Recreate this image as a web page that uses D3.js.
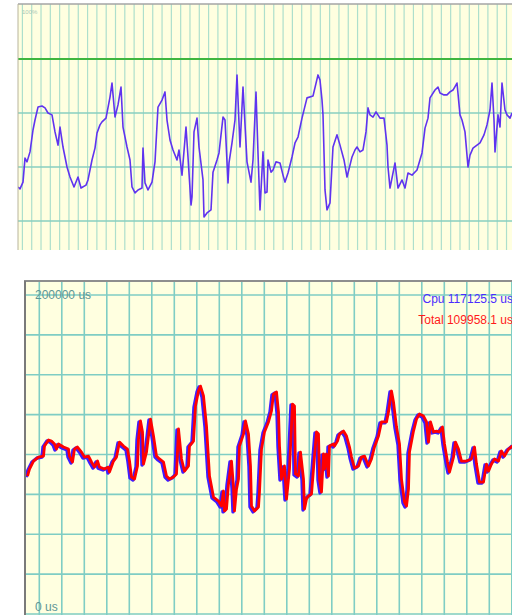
<!DOCTYPE html>
<html>
<head>
<meta charset="utf-8">
<script src="https://cdn.jsdelivr.net/npm/d3@7"></script>
<style>
  body { margin: 0; background: #fff; }
  svg { display: block; font-family: "Liberation Sans", Arial, sans-serif; }
</style>
</head>
<body>
<div class="chart"></div>
<script>
// ---- data: top panel (cpu load, percent) ----
const topT = [0,2,5,7,9,12,15,17,20,24,27,30,34,37,40,42,45,49,52,56,60,63,68,70,74,77,79,82,84,88,
  92,94,97,100,103,105,109,112,114,117,120,124,125,127,130,134,137,140,144,147,149,152,155,159,161,164,168,170,173,174,
  176,179,181,185,186,189,193,195,199,201,205,207,210,211,214,217,219,222,225,229,233,235,238,240,242,245,247,249,250,253,
  255,258,262,265,267,270,274,277,280,284,289,295,300,302,304,305,307,309,312,315,319,322,326,329,332,334,337,339,342,345,
  348,350,352,355,358,362,366,369,370,372,377,380,384,387,390,394,399,404,407,410,412,417,420,422,426,429,432,435,439,442,
  444,447,450,452,455,459,462,466,469,472,474,476,477,480,482,484,487,489,492,494];
const topPct = [32.6,31.9,34.4,43.3,41.9,45.6,53.7,57.4,62.2,62.6,61.9,60.0,59.3,53.0,48.1,54.8,47.4,40.0,36.3,32.6,
  36.3,32.2,33.3,35.2,42.6,47.0,52.6,55.6,56.7,58.1,65.9,71.1,58.5,63.0,69.6,54.8,47.4,42.6,32.6,30.4,
  31.5,32.2,47.0,34.1,31.5,34.4,41.9,62.2,64.8,67.8,57.4,50.0,46.3,42.6,46.3,37.0,54.8,43.7,25.9,28.9,
  53.0,58.1,47.4,35.2,21.5,23.0,24.1,38.1,42.6,45.2,58.5,57.4,34.1,41.5,48.9,57.4,74.1,47.4,69.6,41.9,
  34.4,42.6,67.8,45.2,24.1,45.6,30.4,30.7,42.6,38.1,38.9,41.9,41.5,37.0,34.4,37.8,43.7,48.9,51.1,58.1,
  65.6,66.3,74.1,72.2,64.8,59.3,31.5,24.1,26.7,47.4,51.9,48.1,42.6,36.3,40.7,43.7,46.3,47.4,45.6,46.3,
  53.0,61.9,59.3,58.5,60.4,58.1,58.1,48.1,40.0,32.2,41.5,32.2,35.2,32.2,37.8,37.0,38.9,45.2,54.4,58.1,
  65.6,68.5,69.6,67.4,66.7,66.7,67.8,68.5,71.1,59.3,57.4,53.0,40.0,44.4,47.0,48.1,48.9,51.9,55.6,61.1,
  71.1,57.4,45.6,59.3,54.8,71.1,61.1,59.3,58.1,60.0];
const topGridPct = [20, 40, 60];
const thresholdPct = 80;
const topLabel = "100%";

// ---- data: bottom panel (frame time, us) ----
const bottomT = [0,2,6,11,16,17,21,24,27,29,31,36,41,42,45,47,50,54,57,61,64,67,70,72,77,81,82,86,89,92,
  96,100,102,104,107,110,111,113,115,116,119,121,123,126,129,132,136,139,142,146,149,151,154,157,161,162,166,168,171,173,
  176,179,182,186,191,194,196,197,199,201,204,206,207,209,211,212,216,218,221,223,224,227,231,232,234,237,241,244,246,249,
  251,252,254,257,259,262,265,267,268,271,273,276,277,279,281,284,287,289,291,292,294,296,297,299,301,302,306,307,310,312,
  316,319,322,324,327,331,334,337,341,344,347,351,354,359,361,364,366,369,372,374,377,379,381,382,386,389,392,396,399,401,
  403,406,409,412,415,417,420,422,426,428,431,434,439,444,447,449,452,456,459,461,464,467,471,474,477,481,484,486];
const cpuUs = [85900,90300,95300,97800,98400,104700,108500,107800,106000,102800,
  106000,104100,102800,98400,94700,102800,104100,100900,97800,98400,
  94700,91500,95300,91500,90300,91500,88400,95300,97800,107200,
  104700,102800,95300,85300,84000,92200,109100,120400,113500,93400,
  100900,111000,121600,111000,98400,96600,94700,85900,84000,85300,
  87200,115400,96600,89000,92200,104700,107800,129800,139200,142300,
  136100,117200,85900,72700,70200,67100,76500,64000,65200,80900,
  95300,79000,64000,77700,84000,104700,112200,120400,112200,92200,
  67100,64000,66500,75900,102800,113500,119800,126700,137300,138600,
  126000,104700,84000,92200,71500,90300,131000,129800,87200,85900,
  100900,84000,65200,71500,73400,74600,98400,113500,112200,84000,
  75900,99700,90300,99700,85900,104700,106000,104700,107800,112200,
  114100,111000,104100,97800,90900,92200,97800,98400,92200,96600,
  104100,111000,119800,119800,126000,139200,132300,116600,106000,84000,
  69600,67100,77700,100900,114100,121600,124800,123500,119800,107200,
  119800,113500,114100,113500,116600,106000,94700,88400,97800,107200,
  102800,95300,95300,96600,104100,93400,82100,82100,93400,89000,
  93400,96600,95300,101600,98400,102800,104100,105300];
const totalUs = [86500,90900,95900,98400,99000,105300,109100,108400,106600,103400,
  106600,104700,103400,99000,95300,103400,104700,101500,98400,99000,
  95300,92100,95900,92100,90900,92100,89000,95900,98400,107800,
  105300,103400,95900,85900,84600,92800,109700,121000,114100,94000,
  101500,111600,122200,111600,99000,97200,95300,86500,84600,85900,
  87800,116000,97200,89600,92800,105300,108400,130400,139800,142900,
  136700,117800,86500,73300,70800,67700,77100,64600,65800,81500,
  95900,79600,64600,78300,84600,105300,112800,121000,112800,92800,
  67700,64600,67100,76500,103400,114100,120400,127300,137900,139200,
  126600,105300,84600,92800,72100,90900,131600,130400,87800,86500,
  101500,84600,65800,72100,74000,75200,99000,114100,112800,84600,
  76500,100300,90900,100300,86500,105300,106600,105300,108400,112800,
  114700,111600,104700,98400,91500,92800,98400,99000,92800,97200,
  104700,111600,120400,120400,126600,139800,132900,117200,106600,84600,
  70200,67700,78300,101500,114700,122200,125400,124100,120400,107800,
  120400,114100,114700,114100,117200,106600,95300,89000,98400,107800,
  103400,95900,95900,97200,104700,94000,82700,82700,94000,89600,
  94000,97200,95900,102200,99000,103400,104700,105900];
const bottomGridUs = [25000, 50000, 75000, 100000, 125000, 150000, 175000, 200000];
const yMaxLabel = "200000 us";
const yMinLabel = "0 us";
const cpuLabel = "Cpu 117125.5 us";
const totalLabel = "Total 109958.1 us";

// ---- layout ----
const W = 512, H = 615;
const svg = d3.select("div.chart").append("svg")
  .attr("width", W)
  .attr("height", H);

const defs = svg.append("defs");

// ================= TOP PANEL =================
const topBox = {left: 18, right: 512, top: 4, bottom: 250};
const xTop = d3.scaleLinear().domain([0, 494]).range([topBox.left, topBox.right]);
const yTop = d3.scaleLinear().domain([0, 100]).range([275, 5]);

defs.append("clipPath").attr("id", "clipTop")
  .append("rect")
  .attr("x", topBox.left).attr("y", topBox.top)
  .attr("width", topBox.right - topBox.left).attr("height", topBox.bottom - topBox.top);

const gTop = svg.append("g").attr("clip-path", "url(#clipTop)");

gTop.append("rect")
  .attr("x", topBox.left).attr("y", topBox.top)
  .attr("width", topBox.right - topBox.left).attr("height", topBox.bottom - topBox.top)
  .attr("fill", "#ffffe0");

// vertical grid, every 9.31 samples
const topGridX = d3.range(4.4, 494, 9.31);
gTop.selectAll("line.vgrid")
  .data(topGridX)
  .enter()
  .append("line")
  .attr("class", "vgrid")
  .attr("x1", d => xTop(d)).attr("x2", d => xTop(d))
  .attr("y1", topBox.top).attr("y2", topBox.bottom)
  .attr("stroke", "#addfcc")
  .attr("stroke-width", 1.2);

gTop.selectAll("line.hgrid")
  .data(topGridPct)
  .enter()
  .append("line")
  .attr("class", "hgrid")
  .attr("x1", topBox.left).attr("x2", topBox.right)
  .attr("y1", d => yTop(d)).attr("y2", d => yTop(d))
  .attr("stroke", "#88cfc0")
  .attr("stroke-width", 1.5);

// threshold line
gTop.append("line")
  .attr("x1", topBox.left).attr("x2", topBox.right)
  .attr("y1", yTop(thresholdPct)).attr("y2", yTop(thresholdPct))
  .attr("stroke", "#3fb63f")
  .attr("stroke-width", 2);

gTop.append("text")
  .attr("x", topBox.left + 4)
  .attr("y", topBox.top + 10)
  .style("font-size", "6px")
  .style("fill", "#a8c8b8")
  .text(topLabel);

const topLine = d3.line()
  .x((d, i) => xTop(topT[i]))
  .y(d => yTop(d));

gTop.append("path")
  .datum(topPct)
  .attr("d", topLine)
  .attr("fill", "none")
  .attr("stroke", "#5f33f0")
  .attr("stroke-width", 1.6)
  .attr("stroke-linejoin", "round");

// borders
svg.append("line")
  .attr("x1", topBox.left).attr("x2", topBox.right)
  .attr("y1", topBox.top).attr("y2", topBox.top)
  .attr("stroke", "#a4a4a4").attr("stroke-width", 1.5);
svg.append("line")
  .attr("x1", topBox.left).attr("x2", topBox.left)
  .attr("y1", topBox.top).attr("y2", topBox.bottom)
  .attr("stroke", "#b8b49c").attr("stroke-width", 1);

// ================= BOTTOM PANEL =================
const botBox = {left: 25, right: 512, top: 281, bottom: 615};
const xBot = d3.scaleLinear().domain([0, 486]).range([26, 512]);
const yBot = d3.scaleLinear().domain([0, 200000]).range([614, 295]);

defs.append("clipPath").attr("id", "clipBot")
  .append("rect")
  .attr("x", botBox.left).attr("y", botBox.top)
  .attr("width", botBox.right - botBox.left).attr("height", botBox.bottom - botBox.top);

const gBot = svg.append("g").attr("clip-path", "url(#clipBot)");

gBot.append("rect")
  .attr("x", botBox.left).attr("y", botBox.top)
  .attr("width", botBox.right - botBox.left).attr("height", botBox.bottom - botBox.top)
  .attr("fill", "#ffffe0");

const botGridX = d3.range(13.3, 486, 22.5);
gBot.selectAll("line.vgrid")
  .data(botGridX)
  .enter()
  .append("line")
  .attr("class", "vgrid")
  .attr("x1", d => xBot(d)).attr("x2", d => xBot(d))
  .attr("y1", botBox.top).attr("y2", botBox.bottom)
  .attr("stroke", "#7fcdc4")
  .attr("stroke-width", 1.6);

gBot.selectAll("line.hgrid")
  .data(bottomGridUs.concat([0]))
  .enter()
  .append("line")
  .attr("class", "hgrid")
  .attr("x1", botBox.left).attr("x2", botBox.right)
  .attr("y1", d => yBot(d)).attr("y2", d => yBot(d))
  .attr("stroke", "#7fcdc4")
  .attr("stroke-width", 1.6);

gBot.append("text")
  .attr("x", 35)
  .attr("y", yBot(200000) + 4)
  .style("font-size", "12px")
  .style("fill", "#5e9696")
  .text(yMaxLabel);

gBot.append("text")
  .attr("x", 35)
  .attr("y", yBot(0) - 3)
  .style("font-size", "12px")
  .style("fill", "#5e9696")
  .text(yMinLabel);

const botLine = d3.line()
  .x((d, i) => xBot(bottomT[i]))
  .y(d => yBot(d));

gBot.append("path")
  .datum(cpuUs)
  .attr("d", botLine)
  .attr("fill", "none")
  .attr("stroke", "#3f1cff")
  .attr("stroke-width", 3.4)
  .attr("stroke-linejoin", "round");

// Total drawn on top, a hair to the right like the original
gBot.append("path")
  .datum(totalUs)
  .attr("d", botLine)
  .attr("transform", "translate(1.5,0)")
  .attr("fill", "none")
  .attr("stroke", "#ff0000")
  .attr("stroke-width", 2.8)
  .attr("stroke-linejoin", "round");

gBot.append("text")
  .attr("x", 513)
  .attr("y", 303)
  .attr("text-anchor", "end")
  .style("font-size", "12px")
  .style("fill", "#4a2cff")
  .text(cpuLabel);

gBot.append("text")
  .attr("x", 513)
  .attr("y", 324)
  .attr("text-anchor", "end")
  .style("font-size", "12px")
  .style("fill", "#ff1a1a")
  .text(totalLabel);

// borders
svg.append("line")
  .attr("x1", botBox.left - 1).attr("x2", botBox.right)
  .attr("y1", botBox.top).attr("y2", botBox.top)
  .attr("stroke", "#8e8e8e").attr("stroke-width", 2);
svg.append("line")
  .attr("x1", botBox.left).attr("x2", botBox.left)
  .attr("y1", botBox.top).attr("y2", botBox.bottom)
  .attr("stroke", "#7a7a7a").attr("stroke-width", 2);
</script>
</body>
</html>
